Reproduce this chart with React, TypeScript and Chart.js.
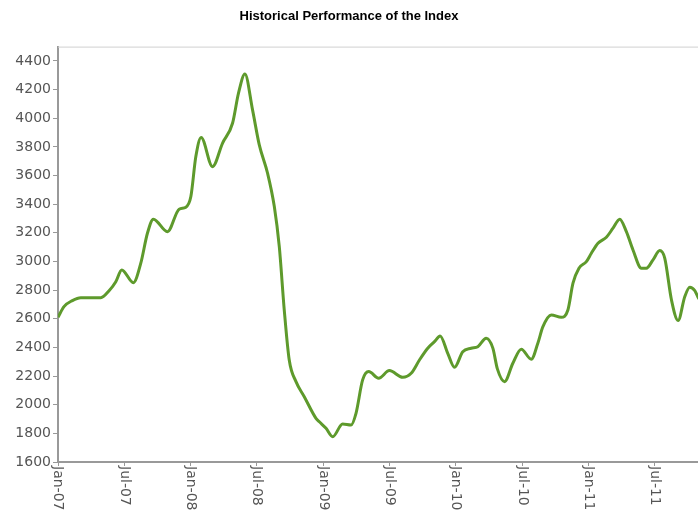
import React, { useEffect, useRef } from "react";
import { Chart, registerables } from "chart.js";

Chart.register(...registerables);

// Months since Jan-2007 (fractional) and index level
const months = [
  0, 0.54, 1.3, 2.06, 3.87, 4.62, 5.23, 5.77, 6.82, 7.49, 8.09, 8.63, 9.9, 10.96,
  11.57, 12.02, 12.47, 12.95, 13.98, 14.88, 15.79, 16.33, 16.91, 17.6, 18.21, 18.96,
  19.57, 20.02, 20.47, 20.92, 21.53, 22.28, 23.34, 23.64, 24.25, 24.85, 25.75, 26.51,
  26.96, 27.56, 28.11, 29.01, 29.98, 31.19, 31.95, 32.7, 33.45, 34.06, 34.57, 35.26,
  35.87, 36.62, 37.38, 37.98, 38.74, 39.34, 39.75, 40.4, 41.15, 41.91, 42.82, 43.41,
  43.87, 44.63, 45.53, 46.13, 46.59, 47.13, 47.8, 48.25, 48.85, 49.61, 50.21, 50.82,
  51.42, 52.02, 52.78, 53.23, 53.83, 54.44, 54.89, 55.5, 56.1, 56.7, 57.16, 57.61,
  57.88, 58.3,
];
const values = [
  2610, 2685, 2727, 2747, 2747, 2796, 2859, 2941, 2852, 2988, 3197, 3295, 3208, 3365,
  3379, 3453, 3732, 3866, 3662, 3825, 3965, 4175, 4309, 4058, 3814, 3616,
  3383, 3103, 2661, 2312, 2161, 2056, 1905, 1881, 1835, 1777, 1865, 1858,
  1940, 2173, 2231, 2185, 2238, 2191, 2219, 2312, 2394, 2440, 2480, 2359,
  2261, 2370, 2394, 2405, 2464, 2395, 2250, 2161, 2289, 2387, 2317, 2429,
  2545, 2627, 2610, 2661, 2848, 2953, 2999, 3057, 3127, 3169, 3232, 3295,
  3208, 3080, 2953, 2953, 3011, 3076, 3023, 2731, 2587, 2754, 2820, 2796,
  2754, 2700,
];
const tickLabels = [
  "Jan-07", "Jul-07", "Jan-08", "Jul-08", "Jan-09", "Jul-09", "Jan-10", "Jul-10", "Jan-11", "Jul-11",
];
const yTickValues = [1600, 1800, 2000, 2200, 2400, 2600, 2800, 3000, 3200, 3400, 3600, 3800, 4000, 4200, 4400];
const titleText = "Historical Performance of the Index";

const labelFont = '14px "DejaVu Sans"';
const axisColor = "#999999";
const labelColor = "#555555";

const customPlugin = {
  id: "customDecor",
  afterDraw(chart: any) {
    const { ctx, chartArea, scales } = chart;
    const xs = scales.x;
    ctx.save();
    ctx.strokeStyle = "#d0d0d0";
    ctx.lineWidth = 1;
    ctx.beginPath();
    ctx.moveTo(chartArea.left, chartArea.top + 0.5);
    ctx.lineTo(chartArea.right, chartArea.top + 0.5);
    ctx.stroke();
    ctx.font = labelFont;
    ctx.fillStyle = labelColor;
    ctx.textAlign = "left";
    ctx.textBaseline = "middle";
    xs.ticks.forEach((t: any) => {
      const idx = Math.round(t.value / 6);
      const label = tickLabels[idx];
      if (!label) return;
      const px = xs.getPixelForValue(t.value);
      ctx.save();
      ctx.translate(px, chartArea.bottom + 4);
      ctx.rotate(Math.PI / 2);
      ctx.fillText(label, 0, 0);
      ctx.restore();
    });
    ctx.restore();
  },
};

export default function App() {
  const ref = useRef<HTMLCanvasElement>(null);
  useEffect(() => {
    if (!ref.current) return;
    const points = months.map((m, i) => ({ x: m, y: values[i] }));
    const chart = new Chart(ref.current, {
      type: "line",
      data: {
        datasets: [
          {
            data: points,
            borderColor: "#5e9a2c",
            borderWidth: 3,
            pointRadius: 0,
            cubicInterpolationMode: "monotone",
            fill: false,
          },
        ],
      },
      options: {
        animation: false,
        responsive: false,
        devicePixelRatio: 1,
        layout: { padding: 0 },
        plugins: {
          legend: { display: false },
          tooltip: { enabled: false },
          title: {
            display: true,
            text: titleText,
            color: "#000",
            font: { family: '"Liberation Sans", Arial', size: 13, weight: "bold" },
            padding: { top: 9, bottom: 22 },
          },
        },
        scales: {
          x: {
            type: "linear",
            min: 0,
            max: 57.9,
            afterBuildTicks: (s: any) => {
              s.ticks = tickLabels.map((_, i) => ({ value: i * 6 }));
            },
            afterFit: (s: any) => {
              s.height = 55;
            },
            ticks: { display: false, stepSize: 6 },
            grid: { display: true, drawOnChartArea: false, drawTicks: true, tickLength: 4, color: axisColor },
            border: { display: true, color: axisColor, width: 2 },
          },
          y: {
            min: 1600,
            max: 4500,
            afterBuildTicks: (s: any) => {
              s.ticks = yTickValues.map((v) => ({ value: v }));
            },
            afterFit: (s: any) => {
              s.width = 58;
            },
            ticks: {
              stepSize: 200,
              color: labelColor,
              font: { family: "DejaVu Sans", size: 14 },
              padding: 2,
              callback: (v: any) => String(v),
            },
            grid: { display: true, drawOnChartArea: false, drawTicks: true, tickLength: 5, color: axisColor },
            border: { display: true, color: axisColor, width: 2 },
          },
        },
      },
      plugins: [customPlugin],
    });
    return () => chart.destroy();
  }, []);
  return (
    <canvas
      ref={ref}
      width={698}
      height={517}
      style={{ position: "fixed", left: 0, top: 0, width: 698, height: 517, background: "#fff" }}
    />
  );
}
